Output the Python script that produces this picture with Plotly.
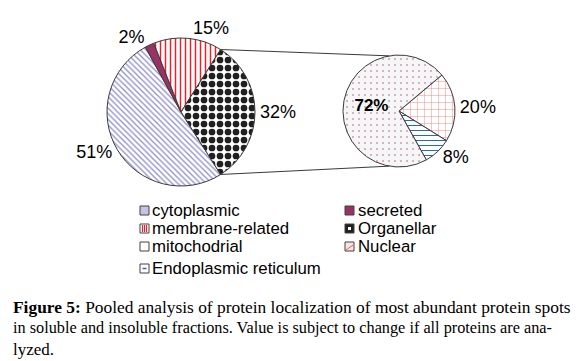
import math
import plotly.graph_objects as go

# ---- data ----
left_labels = ["cytoplasmic", "secreted", "membrane-related", "Organellar"]
left_values = [51, 2, 15, 32]
right_labels = ["Nuclear", "Endoplasmic reticulum", "mitochodrial"]
right_values = [20, 8, 72]
legend_col1 = ["cytoplasmic", "membrane-related", "mitochodrial", "Endoplasmic reticulum"]
legend_col2 = ["secreted", "Organellar", "Nuclear"]
caption_lines = [
    "<b>Figure 5:</b> Pooled analysis of protein localization of most abundant protein spots",
    "in soluble and insoluble fractions. Value is subject to change if all proteins are ana-",
    "lyzed.",
]

# page body has an 8px margin, so the figure is placed at (8, 8)
OX, OY = 8, 8
W, H = 583 - OX, 361 - OY
SANS = "Arial, Liberation Sans, sans-serif"
SERIF = "Times New Roman, Liberation Serif, serif"
EDGE = "#3a3a3a"

def px(x):
    return (x - OX) / W

def py(y):
    return 1 - (y - OY) / H

styles = {
    "cytoplasmic": dict(shape="\\", fgcolor="#9090cc", bgcolor="white", size=4, solidity=0.33),
    "secreted": dict(shape="", fgcolor="#993366", bgcolor="#993366"),
    "membrane-related": dict(shape="|", fgcolor="#e8202a", bgcolor="white", size=5, solidity=0.3),
    "Organellar": dict(shape=".", fgcolor="#202020", bgcolor="white", size=8, solidity=0.55),
    "Nuclear": dict(shape="+", fgcolor="#f07878", bgcolor="white", size=7, solidity=0.12),
    "Endoplasmic reticulum": dict(shape="-", fgcolor="#2a66c4", bgcolor="white", size=5, solidity=0.2),
    "mitochodrial": dict(shape=".", fgcolor="#9a3a7a", bgcolor="#f6f6f6", size=6, solidity=0.04),
}

# geometry of the two pies (pixels in the reference picture)
c1x, c1y, r1 = 181, 112, 74
c2x, c2y, r2 = 399, 111, 56

org_frac = left_values[3] / sum(left_values)
rot1 = 90 + 180 * org_frac  # cytoplasmic starts where Organellar ends
rot2 = 50


def pattern_for(labels):
    return dict(
        shape=[styles[l]["shape"] for l in labels],
        fgcolor=[styles[l]["fgcolor"] for l in labels],
        bgcolor=[styles[l]["bgcolor"] for l in labels],
        size=[styles[l].get("size", 8) for l in labels],
        solidity=[styles[l].get("solidity", 0.3) for l in labels],
        fillmode="replace",
    )


fig = go.Figure()
fig.add_trace(go.Pie(
    labels=left_labels, values=left_values, sort=False, direction="clockwise",
    rotation=rot1,
    domain=dict(x=[px(c1x - r1), px(c1x + r1)], y=[py(c1y + r1), py(c1y - r1)]),
    marker=dict(colors=[styles[l]["bgcolor"] for l in left_labels],
                pattern=pattern_for(left_labels),
                line=dict(color=EDGE, width=1)),
    texttemplate="%{percent:.0%}", textposition="outside",
    textfont=dict(family=SANS, size=18, color="black"),
    showlegend=False, hoverinfo="label+percent",
))
fig.add_trace(go.Pie(
    labels=right_labels, values=right_values, sort=False, direction="clockwise",
    rotation=rot2,
    domain=dict(x=[px(c2x - r2), px(c2x + r2)], y=[py(c2y + r2), py(c2y - r2)]),
    marker=dict(colors=[styles[l]["bgcolor"] for l in right_labels],
                pattern=pattern_for(right_labels),
                line=dict(color=EDGE, width=1)),
    texttemplate=["%{percent:.0%}", "%{percent:.0%}", "<b>%{percent:.0%}</b>"],
    textposition=["outside", "outside", "inside"],
    insidetextorientation="horizontal",
    textfont=dict(family=SANS, size=18, color="black"),
    insidetextfont=dict(family=SANS, size=17, color="black"),
    showlegend=False, hoverinfo="label+percent",
))

shapes = []
# connector lines from the Organellar slice edges to the second pie
a_start = math.radians(rot1 - 360 * org_frac)
a_end = math.radians(rot1)
p_top = (c1x + r1 * math.sin(a_start), c1y - r1 * math.cos(a_start))
p_bot = (c1x + r1 * math.sin(a_end), c1y - r1 * math.cos(a_end))
q_top = (c2x + r2 * math.sin(math.radians(-10)), c2y - r2 * math.cos(math.radians(-10)))
q_bot = (c2x + r2 * math.sin(math.radians(190)), c2y - r2 * math.cos(math.radians(190)))
for p, q in [(p_top, q_top), (p_bot, q_bot)]:
    shapes.append(dict(type="line", xref="paper", yref="paper",
                       x0=px(p[0]), y0=py(p[1]), x1=px(q[0]), y1=py(q[1]),
                       line=dict(color=EDGE, width=1)))

annotations = []
row_y = [210, 228, 246, 268]
col_x = [(140, 151), (345, 357)]
box_fill = {
    "cytoplasmic": "#c4c4e4", "secreted": "#993366", "membrane-related": "white",
    "Organellar": "#202020", "mitochodrial": "white", "Nuclear": "#fde4e4",
    "Endoplasmic reticulum": "white",
}
for ci, col in enumerate([legend_col1, legend_col2]):
    bx, tx = col_x[ci]
    for ri, name in enumerate(col):
        yc = row_y[ri]
        x0, x1, y0, y1 = bx, bx + 9, yc - 4, yc + 5
        shapes.append(dict(type="rect", xref="paper", yref="paper",
                           x0=px(x0), x1=px(x1), y0=py(y1), y1=py(y0),
                           fillcolor=box_fill[name], line=dict(color="#404040", width=1)))
        if name == "membrane-related":
            for k in (2.5, 4.5, 6.5):
                shapes.append(dict(type="line", xref="paper", yref="paper",
                                   x0=px(x0 + k), x1=px(x0 + k), y0=py(y1 - 1), y1=py(y0 + 1),
                                   line=dict(color="#e8202a", width=1.2)))
        if name == "Organellar":
            shapes.append(dict(type="rect", xref="paper", yref="paper",
                               x0=px(x0 + 3), x1=px(x1 - 3), y0=py(y1 - 3), y1=py(y0 + 3),
                               fillcolor="white", line=dict(width=0)))
        if name == "Nuclear":
            shapes.append(dict(type="line", xref="paper", yref="paper",
                               x0=px(x0 + 1), x1=px(x1 - 1), y0=py(y1 - 1), y1=py(y0 + 3),
                               line=dict(color="#e06060", width=1)))
        if name == "Endoplasmic reticulum":
            shapes.append(dict(type="line", xref="paper", yref="paper",
                               x0=px(x0 + 2.5), x1=px(x1 - 2.5), y0=py(yc + 0.5), y1=py(yc + 0.5),
                               line=dict(color="#2a66c4", width=1.5)))
        annotations.append(dict(
            text=name, xref="paper", yref="paper", x=px(tx), y=py(yc),
            xanchor="left", yanchor="middle", showarrow=False, borderpad=0,
            font=dict(family=SANS, size=16.8, color="black"),
        ))

cap_y = [307, 328, 349]
cap_size = [17.4, 16.25, 17.0]
for line, yc, fs in zip(caption_lines, cap_y, cap_size):
    annotations.append(dict(
        text=line, xref="paper", yref="paper", x=px(12), y=py(yc),
        xanchor="left", yanchor="middle", showarrow=False, borderpad=0,
        font=dict(family=SERIF, size=fs, color="black"),
    ))

fig.update_layout(
    width=W, height=H, margin=dict(l=0, r=0, t=0, b=0),
    paper_bgcolor="white", plot_bgcolor="white",
    shapes=shapes, annotations=annotations, showlegend=False,
)
fig.write_html("out.html")
